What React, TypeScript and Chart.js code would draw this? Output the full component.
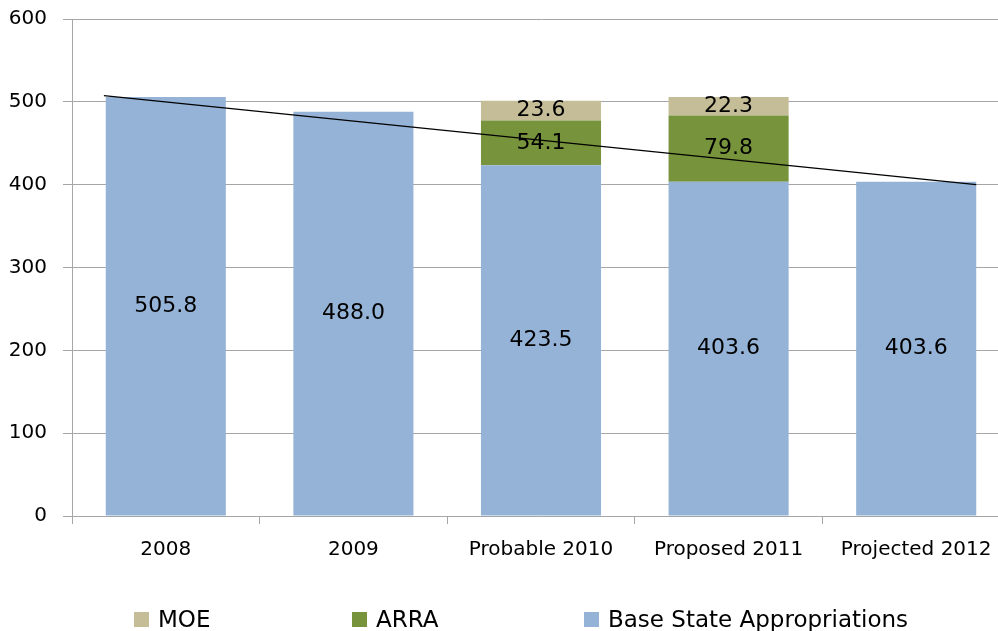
import React, { useEffect, useRef } from "react";
import { Chart, registerables } from "chart.js";

Chart.register(...registerables);

const categories = ["2008", "2009", "Probable 2010", "Proposed 2011", "Projected 2012"];
const baseState = [505.8, 488.0, 423.5, 403.6, 403.6];
const arra = [null, null, 54.1, 79.8, null];
const moe = [null, null, 23.6, 22.3, null];
const trendX = [-0.33, 4.32];
const trendY = [507.6, 400.1];
const yTicks = [0, 100, 200, 300, 400, 500, 600];

const legendItems = [
  { label: "MOE", color: "#C4BD97", left: 134 },
  { label: "ARRA", color: "#77933C", left: 352 },
  { label: "Base State Appropriations", color: "#95B3D7", left: 584 },
];

const FONT = "'DejaVu Sans', Verdana, sans-serif";
const GRID = "#a6a6a6";

const labelPlugin = {
  id: "barLabels",
  afterDatasetsDraw(chart: any) {
    const ctx = chart.ctx;
    ctx.save();
    ctx.font = `22px ${FONT}`;
    ctx.fillStyle = "#000";
    ctx.textAlign = "center";
    ctx.textBaseline = "middle";
    chart.data.datasets.forEach((ds: any, i: number) => {
      if (ds.type !== "bar") return;
      const meta = chart.getDatasetMeta(i);
      meta.data.forEach((el: any, j: number) => {
        const v = ds.data[j];
        if (v === null || v === undefined) return;
        ctx.fillText(Number(v).toFixed(1), el.x, (el.y + el.base) / 2);
      });
    });
    ctx.restore();
  },
};

export default function App() {
  const ref = useRef<HTMLCanvasElement>(null);
  useEffect(() => {
    if (!ref.current) return;
    const chart = new Chart(ref.current, {
      type: "bar",
      data: {
        labels: categories,
        datasets: [
          {
            type: "line",
            label: "Trend",
            data: trendX.map((x, i) => ({ x, y: trendY[i] })),
            xAxisID: "xTrend",
            yAxisID: "y",
            borderColor: "#000",
            borderWidth: 1.3,
            pointRadius: 0,
            order: 0,
          } as any,
          {
            type: "bar",
            label: "Base State Appropriations",
            data: baseState,
            backgroundColor: "#95B3D7",
            order: 1,
          },
          {
            type: "bar",
            label: "ARRA",
            data: arra,
            backgroundColor: "#77933C",
            order: 1,
          },
          {
            type: "bar",
            label: "MOE",
            data: moe,
            backgroundColor: "#C4BD97",
            order: 1,
          },
        ],
      },
      options: {
        responsive: false,
        animation: false,
        devicePixelRatio: 1,
        layout: { padding: { top: 19, left: 0, right: 0, bottom: 0 } },
        datasets: { bar: { categoryPercentage: 1, barPercentage: 0.64, grouped: false } },
        plugins: { legend: { display: false }, tooltip: { enabled: false } },
        scales: {
          x: {
            type: "category",
            stacked: true,
            offset: true,
            grid: { offset: true, drawOnChartArea: false, drawTicks: true, tickLength: 8, color: GRID },
            border: { color: GRID },
            ticks: { color: "#000", font: { family: FONT, size: 20 }, padding: 14, maxRotation: 0 },
            afterFit: (s: any) => { s.height = 115; s.paddingLeft = 0; s.paddingRight = 0; },
          },
          xTrend: {
            type: "linear",
            display: false,
            offset: false,
            grace: 0,
            min: -0.5,
            max: 4.5,
          },
          y: {
            stacked: true,
            min: 0,
            max: 600,
            afterBuildTicks: (s: any) => { s.ticks = yTicks.map((v) => ({ value: v })); },
            grid: { color: GRID, tickLength: 9, drawTicks: true },
            border: { color: GRID },
            ticks: { color: "#000", font: { family: FONT, size: 20 }, padding: 16 },
            afterFit: (s: any) => { s.width = 72; s.paddingTop = 0; s.paddingBottom = 0; },
          },
        },
      } as any,
      plugins: [labelPlugin],
    });
    return () => chart.destroy();
  }, []);

  return (
    <div style={{ position: "fixed", left: 0, top: 0, width: 998, height: 631, overflow: "hidden", background: "#fff" }}>
      <canvas ref={ref} width={1010} height={631} style={{ position: "absolute", left: 0, top: 0 }} />
      {legendItems.map((it) => (
        <div key={it.label} style={{ position: "absolute", left: it.left, top: 604, height: 30, display: "flex", alignItems: "center", fontFamily: FONT, fontSize: 23, color: "#000", whiteSpace: "nowrap" }}>
          <span style={{ display: "inline-block", width: 15, height: 15, background: it.color, marginRight: 9 }} />
          <span>{it.label}</span>
        </div>
      ))}
    </div>
  );
}
